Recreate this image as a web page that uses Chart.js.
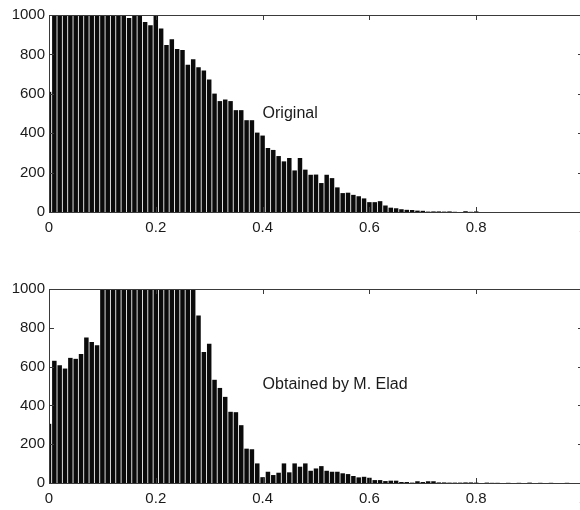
<!DOCTYPE html>
<html>
<head>
<meta charset="utf-8">
<script src="https://cdn.jsdelivr.net/npm/chart.js@4/dist/chart.umd.min.js"></script>
<style>
  html, body { margin: 0; padding: 0; background: #fff; width: 580px; height: 510px; overflow: hidden; }
  .panel { position: absolute; left: 0; width: 600px; }
  #p1 { top: 0; height: 250px; }
  #p2 { top: 270px; height: 240px; }
</style>
</head>
<body>
<div class="panel" id="p1"><canvas id="c1" width="600" height="250"></canvas></div>
<div class="panel" id="p2"><canvas id="c2" width="600" height="240"></canvas></div>
<script>
// Bin centres (histogram bins of width 0.01)
const binCenters = [
  0.00,0.01,0.02,0.03,0.04,0.05,0.06,0.07,0.08,0.09,
  0.10,0.11,0.12,0.13,0.14,0.15,0.16,0.17,0.18,0.19,
  0.20,0.21,0.22,0.23,0.24,0.25,0.26,0.27,0.28,0.29,
  0.30,0.31,0.32,0.33,0.34,0.35,0.36,0.37,0.38,0.39,
  0.40,0.41,0.42,0.43,0.44,0.45,0.46,0.47,0.48,0.49,
  0.50,0.51,0.52,0.53,0.54,0.55,0.56,0.57,0.58,0.59,
  0.60,0.61,0.62,0.63,0.64,0.65,0.66,0.67,0.68,0.69,
  0.70,0.71,0.72,0.73,0.74,0.75,0.76,0.77,0.78,0.79,
  0.80,0.81,0.82,0.83,0.84,0.85,0.86,0.87,0.88,0.89,
  0.90,0.91,0.92,0.93,0.94,0.95,0.96,0.97,0.98,0.99,
  1.00
];

// "Original" histogram counts (values above 1000 are clipped in the figure)
const originalCounts = [
  610,1000,1000,1000,1000,1000,1000,1000,1000,1000,
  1000,1000,1000,1000,1000,985,1000,1000,965,948,
  995,932,848,877,827,822,747,776,735,718,
  672,601,563,571,563,517,517,466,466,403,
  388,325,315,284,257,274,211,274,215,189,
  190,147,189,172,125,96,98,87,80,69,
  50,50,55,33,22,19,14,11,10,7,
  6,2,3,3,2,3,1,0,4,1,
  3,0,0,0,0,0,0,0,0,0,
  0,0,0,0,0,0,0,0,0,0,
  0
];

// "Obtained by M. Elad" histogram counts
const eladCounts = [
  305,630,607,590,645,640,665,750,727,710,
  1000,1000,1000,1000,1000,1000,1000,1000,1000,1000,
  1000,1000,1000,1000,1000,1000,1000,1000,864,675,
  718,532,490,444,367,365,298,177,174,101,
  30,58,41,53,101,55,101,84,101,63,
  75,87,63,58,58,50,46,36,29,32,
  27,15,15,10,12,12,5,5,2,9,
  5,9,9,3,3,2,2,2,3,3,
  2,0,2,1,1,0,1,0,1,0,
  2,0,1,0,1,0,0,1,0,0,
  0
];

const xTickLabels = ["0", "0.2", "0.4", "0.6", "0.8", "1"];
const yTickLabels = ["0", "200", "400", "600", "800", "1000"];

const FONT = "'Liberation Sans', Arial, sans-serif";

const framePlugin = {
  id: 'matlabFrame',
  afterDatasetsDraw(chart) {
    const { ctx, chartArea: a, scales } = chart;
    ctx.save();
    ctx.strokeStyle = '#3a3a3a';
    ctx.lineWidth = 1;
    ctx.strokeRect(Math.round(a.left) + 0.5, Math.round(a.top) + 0.5,
                   Math.round(a.right - a.left), Math.round(a.bottom - a.top));
    const L = 5;
    ctx.beginPath();
    scales.x.ticks.forEach(t => {
      const px = Math.round(scales.x.getPixelForValue(t.value)) + 0.5;
      ctx.moveTo(px, a.bottom); ctx.lineTo(px, a.bottom - L);
      ctx.moveTo(px, a.top); ctx.lineTo(px, a.top + L);
    });
    scales.y.ticks.forEach(t => {
      const py = Math.round(scales.y.getPixelForValue(t.value)) + 0.5;
      ctx.moveTo(a.left, py); ctx.lineTo(a.left + L, py);
      ctx.moveTo(a.right, py); ctx.lineTo(a.right - L, py);
    });
    ctx.stroke();
    ctx.restore();
  }
};

const notePlugin = {
  id: 'note',
  afterDraw(chart, args, opts) {
    if (!opts || !opts.text) return;
    const { ctx, scales } = chart;
    ctx.save();
    ctx.fillStyle = '#1a1a1a';
    ctx.font = opts.size + 'px ' + FONT;
    ctx.textAlign = 'left';
    ctx.textBaseline = 'middle';
    ctx.fillText(opts.text, scales.x.getPixelForValue(opts.x), scales.y.getPixelForValue(opts.y));
    ctx.restore();
  }
};

function makeChart(id, counts, note, padTop, xAxisHeight) {
  const points = binCenters.map((c, i) => ({ x: c, y: counts[i] }));
  return new Chart(document.getElementById(id), {
    type: 'bar',
    data: {
      datasets: [{
        data: points,
        backgroundColor: '#0b0b0b',
        borderWidth: 0,
        barPercentage: 0.84,
        categoryPercentage: 1.0
      }]
    },
    options: {
      responsive: false,
      animation: false,
      devicePixelRatio: 1,
      layout: { padding: { top: padTop, right: 17, left: 0, bottom: 0 } },
      plugins: {
        legend: { display: false },
        tooltip: { enabled: false },
        note: note
      },
      scales: {
        x: {
          type: 'linear',
          min: 0, max: 1,
          offset: false,
          grid: { display: false, drawTicks: false, offset: false },
          border: { display: false },
          ticks: {
            stepSize: 0.2,
            maxRotation: 0,
            autoSkip: false,
            padding: 7,
            color: '#1a1a1a',
            font: { family: FONT, size: 15 },
            callback: (v, i) => xTickLabels[i]
          },
          afterFit(s) { s.height = xAxisHeight; s.paddingLeft = 0; s.paddingRight = 0; }
        },
        y: {
          min: 0, max: 1000,
          grid: { display: false, drawTicks: false },
          border: { display: false },
          ticks: {
            stepSize: 200,
            padding: 4,
            color: '#1a1a1a',
            font: { family: FONT, size: 15 },
            callback: (v, i) => yTickLabels[i]
          },
          afterFit(s) { s.width = 49; s.paddingTop = 0; s.paddingBottom = 0; }
        }
      }
    },
    plugins: [framePlugin, notePlugin]
  });
}

makeChart('c1', originalCounts, { text: 'Original', x: 0.4, y: 502, size: 16 }, 15, 38);
makeChart('c2', eladCounts, { text: 'Obtained by M. Elad', x: 0.4, y: 505, size: 16 }, 19, 27);
</script>
</body>
</html>
